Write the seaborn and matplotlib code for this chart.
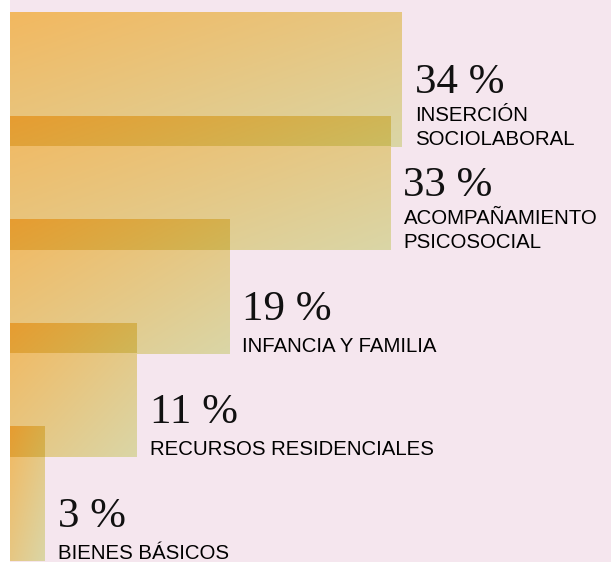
import numpy as np
import pandas as pd
import matplotlib
matplotlib.use("Agg")
import matplotlib.pyplot as plt
import seaborn as sns

# ---- data ----
categories = ["INSERCIÓN SOCIOLABORAL", "ACOMPAÑAMIENTO PSICOSOCIAL",
              "INFANCIA Y FAMILIA", "RECURSOS RESIDENCIALES", "BIENES BÁSICOS"]
values = [34, 33, 19, 11, 3]
value_labels = ["34 %", "33 %", "19 %", "11 %", "3 %"]
label_lines = [["INSERCIÓN", "SOCIOLABORAL"],
               ["ACOMPAÑAMIENTO", "PSICOSOCIAL"],
               ["INFANCIA Y FAMILIA"],
               ["RECURSOS RESIDENCIALES"],
               ["BIENES BÁSICOS"]]

df = pd.DataFrame({"cat": categories, "val": values})

BG = np.array([245, 230, 238]) / 255.0
# multiply-blend tint of the bars: top-left -> bottom-right
TINT_START = np.array([0.99, 0.80, 0.40])
TINT_END = np.array([0.89, 0.93, 0.70])

W, H = 611, 562
fig = plt.figure(figsize=(W / 100, H / 100), dpi=100)
fig.patch.set_facecolor("white")
ax = fig.add_axes([10 / W, 0, (W - 10) / W, 1])
ax.set_facecolor(BG)

sns.barplot(data=df, x="val", y="cat", orient="h", width=1.3,
            color="orange", ax=ax, saturation=1)


def tint(p, X, Y):
    """gradient tint of bar p at data coords X, Y (to bottom right)."""
    x0, y0 = p.get_x(), p.get_y()
    w, h = p.get_width(), p.get_height()
    ytop = min(y0, y0 + h)
    u = np.clip((X - x0) / w, 0, 1)
    v = np.clip((Y - ytop) / abs(h), 0, 1)
    t = (u + v) / 2.0
    return TINT_START[None, None, :] * (1 - t[..., None]) + TINT_END[None, None, :] * t[..., None]


def inside(p, X, Y):
    x0, y0 = p.get_x(), p.get_y()
    w, h = p.get_width(), p.get_height()
    y1, y2 = sorted([y0, y0 + h])
    return (X >= x0) & (X <= x0 + w) & (Y >= y1) & (Y <= y2)


bars = list(ax.patches)
for k, p in enumerate(bars):
    x0, y0 = p.get_x(), p.get_y()
    w, h = p.get_width(), p.get_height()
    ytop, ybot = min(y0, y0 + h), max(y0, y0 + h)
    nx, ny = 300, 200
    xs = np.linspace(x0, x0 + w, nx)
    ys = np.linspace(ytop, ybot, ny)
    X, Y = np.meshgrid(xs, ys)
    col = BG[None, None, :] * tint(p, X, Y)
    for q in bars[:k]:
        m = inside(q, X, Y)
        col = np.where(m[..., None], col * tint(q, X, Y), col)
    im = ax.imshow(np.clip(col, 0, 1), extent=(x0, x0 + w, ybot, ytop),
                   origin="upper", aspect="auto", interpolation="nearest",
                   zorder=2 + k)
    im.set_clip_path(p)
    p.set_facecolor("none")
    p.set_edgecolor("none")

px_per_unit = 392 / 34.0
step = 103.5
ax.set_xlim(0, (W - 10) / px_per_unit)
top = -0.65 - 12 / step
ax.set_ylim(top + H / step, top)

for i, (val, vl, lines) in enumerate(zip(values, value_labels, label_lines)):
    bottom = i + 0.65
    n = len(lines)
    for j, line in enumerate(lines):
        off = 2 + (n - 1 - j) * 24
        ax.annotate(line, xy=(val, bottom), xytext=(13, off),
                    textcoords="offset pixels", va="baseline", ha="left",
                    fontsize=14.7, family="Liberation Sans", color="#000000",
                    annotation_clip=False, zorder=20)
    noff = 2 + (n - 1) * 24 + (28 if n > 1 else 32)
    ax.annotate(vl, xy=(val, bottom), xytext=(13, noff),
                textcoords="offset pixels", va="baseline", ha="left",
                fontsize=31, family="Liberation Serif", color="#111111",
                annotation_clip=False, zorder=20)

ax.set_xlabel("")
ax.set_ylabel("")
ax.set_xticks([])
ax.set_yticks([])
for s in ax.spines.values():
    s.set_visible(False)

fig.savefig("out.png", dpi=100, facecolor=fig.get_facecolor())
